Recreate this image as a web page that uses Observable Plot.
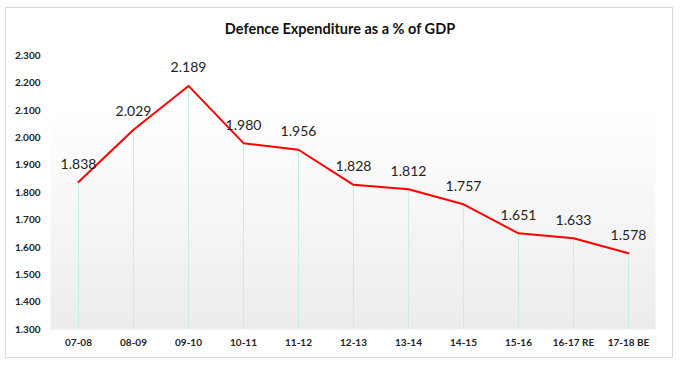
<!DOCTYPE html>
<html>
<head>
<meta charset="utf-8">
<script src="https://cdn.jsdelivr.net/npm/d3@7"></script>
<script src="https://cdn.jsdelivr.net/npm/@observablehq/plot@0.6"></script>
<style>
  body { margin: 0; background: #fff; }
  #wrap { position: relative; width: 680px; height: 368px; overflow: hidden; font-family: Lato, "Open Sans", sans-serif; }
  #box { position: absolute; left: 5px; top: 7px; width: 666px; height: 349px; border: 1px solid #d9d9d9; }
  #title { position: absolute; left: 0; top: 20px; width: 680px; text-align: center; font-weight: bold; font-size: 14.5px; color: #111; }
  #chart { position: absolute; left: 0; top: 0; }
</style>
</head>
<body>
<div id="wrap">
  <div id="box"></div>
  <div id="title">Defence Expenditure as a % of GDP</div>
  <div id="chart"></div>
</div>
<script>
const years = ["07-08","08-09","09-10","10-11","11-12","12-13","13-14","14-15","15-16","16-17 RE","17-18 BE"];
const values = [1.838, 2.029, 2.189, 1.980, 1.956, 1.828, 1.812, 1.757, 1.651, 1.633, 1.578];
const yTicks = [1.3, 1.4, 1.5, 1.6, 1.7, 1.8, 1.9, 2.0, 2.1, 2.2, 2.3];

const data = years.map((year, i) => ({year, value: values[i]}));
const fmt = d3.format(".3f");

const plot = Plot.plot({
  width: 680,
  height: 368,
  marginTop: 55,
  marginBottom: 39,
  marginLeft: 50,
  marginRight: 25,
  style: {background: "transparent", fontFamily: "Lato, 'Open Sans', sans-serif"},
  x: {type: "point", domain: years, padding: 0.5, label: null},
  y: {domain: [1.3, 2.3], ticks: yTicks, label: null},
  marks: [
    Plot.frame({fill: "url(#bgGrad)", stroke: null}),
    Plot.axisY({ticks: yTicks, tickFormat: fmt, tickSize: 0, tickPadding: 10, fontSize: 10, fontWeight: "bold", fill: "#222", label: null}),
    Plot.axisX({tickSize: 0, tickPadding: 9, fontSize: 10, fontWeight: "bold", fill: "#222", label: null}),
    Plot.ruleX(data, {x: "year", y1: 1.3, y2: "value", stroke: "#c6f0dc", strokeWidth: 1}),
    Plot.line(data, {x: "year", y: "value", stroke: "#ff0000", strokeWidth: 2}),
    Plot.text(data, {x: "year", y: "value", text: d => fmt(d.value), dy: -18, fontSize: 14, fill: "#222"})
  ]
});

const svgns = "http://www.w3.org/2000/svg";
const defs = document.createElementNS(svgns, "defs");
const grad = document.createElementNS(svgns, "linearGradient");
grad.setAttribute("id", "bgGrad");
grad.setAttribute("x1", "0"); grad.setAttribute("y1", "0");
grad.setAttribute("x2", "0"); grad.setAttribute("y2", "1");
[["0", "#ffffff"], ["0.2", "#ffffff"], ["1", "#ececec"]].forEach(([o, c]) => {
  const s = document.createElementNS(svgns, "stop");
  s.setAttribute("offset", o); s.setAttribute("stop-color", c);
  grad.appendChild(s);
});
defs.appendChild(grad);
plot.insertBefore(defs, plot.firstChild);
document.getElementById("chart").appendChild(plot);
</script>
</body>
</html>
